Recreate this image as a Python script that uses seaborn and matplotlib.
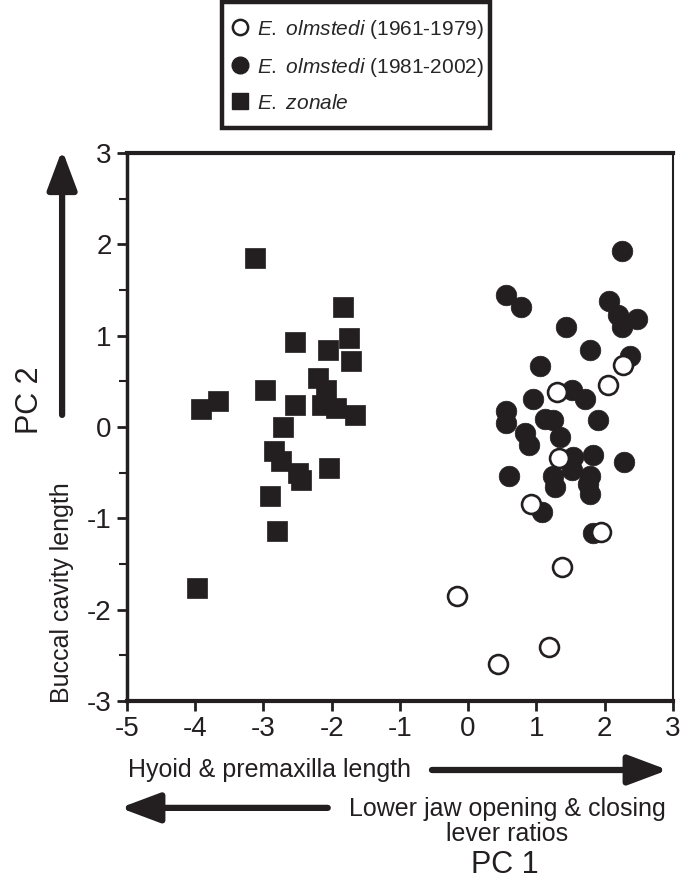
import matplotlib.pyplot as plt
import seaborn as sns
from matplotlib.lines import Line2D
from matplotlib.patches import Rectangle
from matplotlib.ticker import MultipleLocator

# E. zonale (squares)
zonale_pc1 = [-3.12, -1.83, -2.53, -2.06, -1.74, -1.72, -2.20, -2.97, -2.08, -3.92,
              -3.66, -2.53, -2.14, -1.94, -1.66, -2.71, -2.84, -2.74, -2.50, -2.45,
              -2.04, -2.91, -2.80, -3.98]
zonale_pc2 = [1.85, 1.31, 0.93, 0.84, 0.97, 0.72, 0.54, 0.41, 0.40, 0.20,
              0.28, 0.24, 0.24, 0.21, 0.13, 0.00, -0.26, -0.37, -0.50, -0.58,
              -0.45, -0.75, -1.14, -1.76]

# E. olmstedi 1981-2002 (filled circles)
late_pc1 = [2.26, 0.55, 0.78, 1.43, 2.07, 2.20, 2.48, 2.25, 1.78, 1.06,
            2.38, 0.95, 1.52, 1.71, 0.56, 0.56, 1.13, 1.25, 1.91, 0.84,
            0.90, 1.35, 1.54, 1.83, 2.28, 0.60, 1.25, 1.27, 1.52, 1.79,
            1.76, 1.79, 1.08, 1.83]
late_pc2 = [1.93, 1.45, 1.31, 1.10, 1.38, 1.23, 1.18, 1.10, 0.84, 0.67,
            0.78, 0.31, 0.41, 0.31, 0.17, 0.04, 0.09, 0.08, 0.08, -0.07,
            -0.20, -0.11, -0.33, -0.31, -0.38, -0.54, -0.54, -0.66, -0.47, -0.54,
            -0.62, -0.73, -0.93, -1.16]

# E. olmstedi 1961-1979 (open circles)
early_pc1 = [1.31, 2.05, 2.27, 1.33, 0.92, 1.95, 1.37, -0.16, 1.18, 0.44]
early_pc2 = [0.38, 0.46, 0.68, -0.34, -0.84, -1.15, -1.53, -1.85, -2.41, -2.60]

legend_labels = [r"$\mathit{E.\ olmstedi}$ (1961-1979)",
                 r"$\mathit{E.\ olmstedi}$ (1981-2002)",
                 r"$\mathit{E.\ zonale}$"]
x_ticks = [-5, -4, -3, -2, -1, 0, 1, 2, 3]
y_ticks = [-3, -2, -1, 0, 1, 2, 3]

sns.set_style("ticks")
plt.rcParams["font.family"] = ["Liberation Sans", "DejaVu Sans"]
plt.rcParams["mathtext.fontset"] = "custom"
plt.rcParams["mathtext.rm"] = "Liberation Sans"
plt.rcParams["mathtext.it"] = "Liberation Sans:italic"
plt.rcParams["axes.unicode_minus"] = False

INK = "#231f20"

fig = plt.figure(figsize=(6.9, 8.81), dpi=100)
ax = fig.add_axes([0.184, 0.2043, 0.791, 0.622])

sns.scatterplot(x=zonale_pc1, y=zonale_pc2, marker="s", s=190, color=INK,
                edgecolor=INK, linewidth=0.5, ax=ax)
sns.scatterplot(x=late_pc1, y=late_pc2, marker="o", s=220, color=INK,
                edgecolor=INK, linewidth=0.5, ax=ax)
sns.scatterplot(x=early_pc1, y=early_pc2, marker="o", s=185, facecolor="white",
                edgecolor=INK, linewidth=1.9, ax=ax)

ax.set_xlim(-5, 3)
ax.set_ylim(-3, 3)
ax.set_xticks(x_ticks)
ax.set_yticks(y_ticks)
ax.yaxis.set_minor_locator(MultipleLocator(0.5))
ax.tick_params(which="major", labelsize=20, length=7, width=2, color=INK,
               labelcolor=INK, pad=4)
ax.tick_params(which="minor", length=6, width=1.5, color=INK)
ax.set_xlabel("")
ax.set_ylabel("")
for side, lw in [("left", 2.5), ("bottom", 3), ("top", 3), ("right", 1.5)]:
    ax.spines[side].set_visible(True)
    ax.spines[side].set_linewidth(lw)
    ax.spines[side].set_color(INK)

# legend: frameless, with its own box drawn around it
handles = [
    Line2D([], [], ls="none", marker="o", ms=11, mfc="white", mec=INK, mew=1.8),
    Line2D([], [], ls="none", marker="o", ms=12, mfc=INK, mec=INK),
    Line2D([], [], ls="none", marker="s", ms=11, mfc=INK, mec=INK),
]
fig.legend(handles, legend_labels, loc="center", bbox_to_anchor=(0.519, 0.926),
           frameon=False, fontsize=15, handlelength=0.8, handletextpad=0.4,
           labelspacing=0.72, borderpad=0, borderaxespad=0)
fig.add_artist(Rectangle((0.322, 0.855), 0.388, 0.143, transform=fig.transFigure,
                         fill=False, edgecolor=INK, linewidth=3.2))


def arrow(start, end):
    ax.annotate("", xy=end, xytext=start, xycoords="figure fraction",
                textcoords="figure fraction", annotation_clip=False,
                arrowprops=dict(arrowstyle="-|>,head_length=1.2,head_width=0.45",
                                lw=4.5, color=INK, mutation_scale=20,
                                shrinkA=0, shrinkB=0))


arrow((0.090, 0.529), (0.090, 0.830))
arrow((0.626, 0.126), (0.968, 0.126))
arrow((0.475, 0.083), (0.174, 0.083))

fig.text(0.043, 0.546, "PC 2", rotation=90, ha="center", va="center",
         fontsize=22, color=INK)
fig.text(0.090, 0.327, "Buccal cavity length", rotation=90, ha="center",
         va="center", fontsize=18, color=INK)
fig.text(0.186, 0.126, "Hyoid & premaxilla length", ha="left", va="center",
         fontsize=18, color=INK)
fig.text(0.735, 0.067, "Lower jaw opening & closing\nlever ratios", ha="center",
         va="center", multialignment="center", fontsize=18, color=INK,
         linespacing=1.05)
fig.text(0.732, 0.018, "PC 1", ha="center", va="center", fontsize=22, color=INK)

fig.savefig("out.png", dpi=100)
